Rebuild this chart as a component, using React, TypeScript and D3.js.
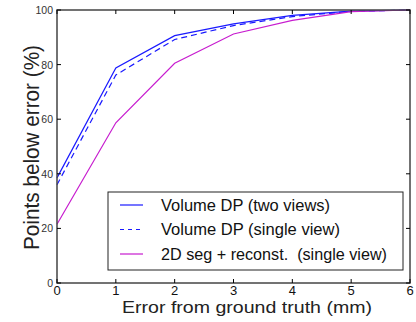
import React, { useEffect, useRef } from "react";
import * as d3 from "d3";

// error thresholds (mm)
const errors = [0, 1, 2, 3, 4, 5, 6];
// percentage of points below error
const volTwoViews = [38.5, 78.8, 90.6, 94.9, 98.0, 99.6, 100];
const volSingleView = [36.0, 76.2, 89.2, 94.3, 97.6, 99.5, 100];
const segSingleView = [21.5, 58.7, 80.5, 91.2, 96.2, 99.4, 100];

const xTicks = [0, 1, 2, 3, 4, 5, 6];
const yTicks = [0, 20, 40, 60, 80, 100];

const series = [
  { label: "Volume DP (two views)", values: volTwoViews, color: "#1a1aff", dash: "" },
  { label: "Volume DP (single view)", values: volSingleView, color: "#1a1aff", dash: "6,4" },
  { label: "2D seg + reconst.  (single view)", values: segSingleView, color: "#c71ccf", dash: "" },
];

const App = () => {
  const svgRef = useRef<SVGSVGElement>(null);

  useEffect(() => {
    const width = 416;
    const height = 322;
    const margin = { top: 10, right: 6, bottom: 39, left: 57 };
    const w = width - margin.left - margin.right;
    const h = height - margin.top - margin.bottom;
    const font = "Liberation Sans";
    const frame = "#444";
    const legendTextWidths = [169, 179, 226];

    const svg = d3.select(svgRef.current);
    svg.selectAll("*").remove();

    const g = svg.append("g").attr("transform", `translate(${margin.left},${margin.top})`);

    const x = d3.scaleLinear().domain([0, 6]).range([0, w]);
    const y = d3.scaleLinear().domain([0, 100]).range([h, 0]);

    // lines
    const line = d3
      .line<number>()
      .x((d, i) => x(errors[i]))
      .y((d) => y(d));

    series.forEach((s) => {
      g.append("path")
        .datum(s.values)
        .attr("d", line)
        .attr("fill", "none")
        .attr("stroke", s.color)
        .attr("stroke-width", 1.2)
        .attr("stroke-dasharray", s.dash || null);
    });

    // frame
    g.append("rect")
      .attr("width", w)
      .attr("height", h)
      .attr("fill", "none")
      .attr("stroke", frame)
      .attr("stroke-width", 1.5);

    // inward ticks on all four sides
    const tl = 4;
    xTicks.forEach((t) => {
      g.append("line").attr("x1", x(t)).attr("x2", x(t)).attr("y1", h).attr("y2", h - tl).attr("stroke", "#000");
      g.append("line").attr("x1", x(t)).attr("x2", x(t)).attr("y1", 0).attr("y2", tl).attr("stroke", "#000");
      g.append("text")
        .attr("x", x(t))
        .attr("y", h + 11.5)
        .attr("text-anchor", "middle")
        .style("font-family", font)
        .style("font-size", "13px")
        .attr("fill", "#111")
        .text(t);
    });
    yTicks.forEach((t) => {
      g.append("line").attr("x1", 0).attr("x2", tl).attr("y1", y(t)).attr("y2", y(t)).attr("stroke", "#000");
      g.append("line").attr("x1", w).attr("x2", w - tl).attr("y1", y(t)).attr("y2", y(t)).attr("stroke", "#000");
      g.append("text")
        .attr("x", -4)
        .attr("y", y(t) + 4)
        .attr("text-anchor", "end")
        .style("font-family", font)
        .style("font-size", "10.5px")
        .attr("fill", "#333")
        .text(t);
    });

    // axis labels
    g.append("text")
      .attr("x", 247 - margin.left)
      .attr("y", h + 30)
      .attr("text-anchor", "middle")
      .attr("textLength", 250)
      .attr("lengthAdjust", "spacingAndGlyphs")
      .style("font-family", font)
      .style("font-size", "17px")
      .attr("fill", "#222")
      .text("Error from ground truth (mm)");

    g.append("text")
      .attr("transform", `translate(-18,${147.5 - margin.top}) rotate(-90)`)
      .attr("text-anchor", "middle")
      .attr("textLength", 205)
      .attr("lengthAdjust", "spacingAndGlyphs")
      .style("font-family", font)
      .style("font-size", "22px")
      .attr("fill", "#222")
      .text("Points below error (%)");

    // legend
    const lg = g.append("g").attr("transform", `translate(${108 - margin.left},${192 - margin.top})`);
    lg.append("rect")
      .attr("width", 295)
      .attr("height", 78)
      .attr("fill", "#fff")
      .attr("stroke", "#222")
      .attr("stroke-width", 1);
    series.forEach((s, i) => {
      const yy = 13 + i * 24.5;
      lg.append("line")
        .attr("x1", 12)
        .attr("x2", 35)
        .attr("y1", yy)
        .attr("y2", yy)
        .attr("stroke", s.color)
        .attr("stroke-width", 1.2)
        .attr("stroke-dasharray", s.dash ? "4,4" : null);
      lg.append("text")
        .attr("x", 53)
        .attr("y", yy + 5.5)
        .attr("textLength", legendTextWidths[i])
        .attr("lengthAdjust", "spacingAndGlyphs")
        .style("font-family", font)
        .style("font-size", "17px")
        .attr("fill", "#111")
        .style("white-space", "pre")
        .text(s.label);
    });
  }, []);

  return <svg ref={svgRef} width={416} height={322} style={{ position: "absolute", left: 0, top: 0 }} />;
};

export default App;
